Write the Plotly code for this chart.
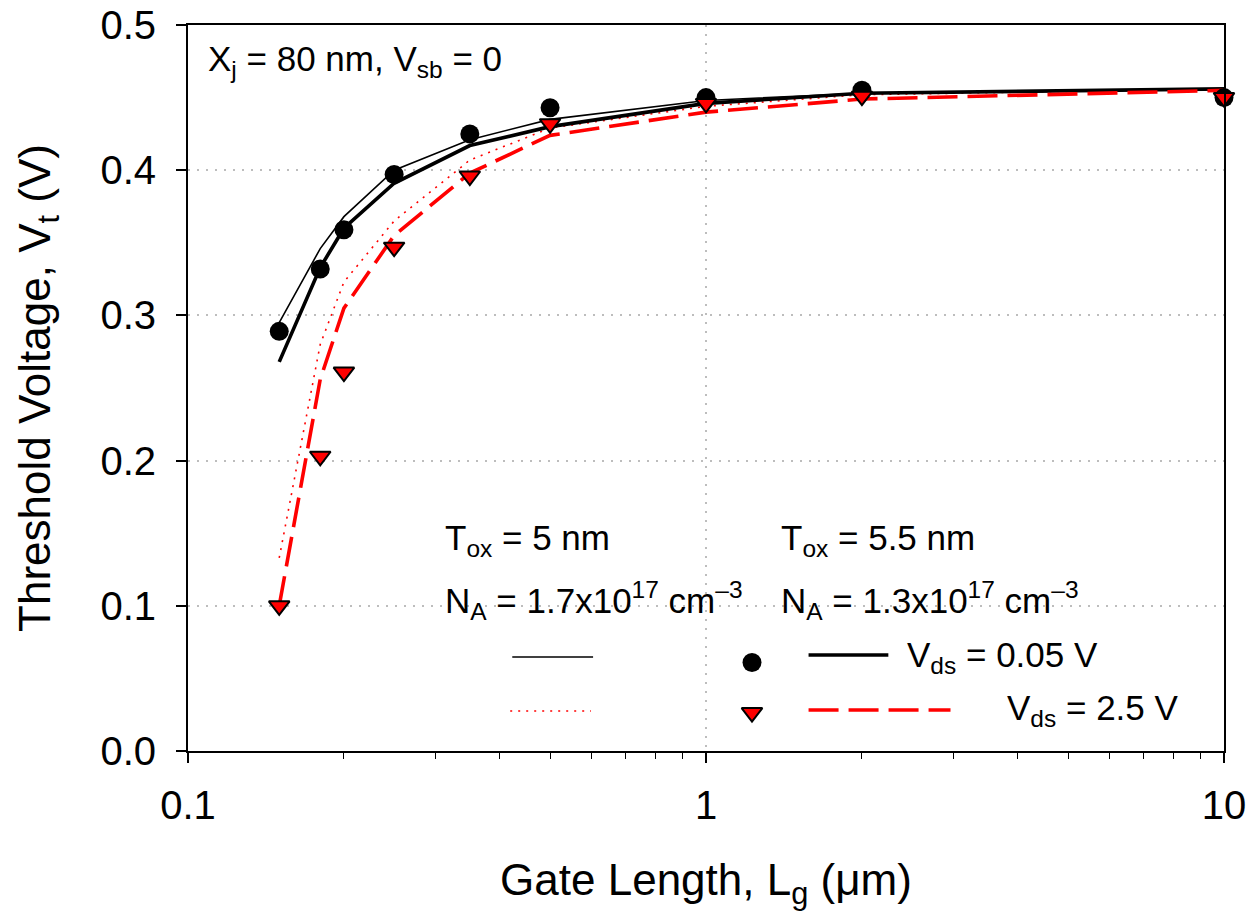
import plotly.graph_objects as go

# Gate lengths (um) where the device was simulated / measured
lg = [0.15, 0.18, 0.2, 0.25, 0.35, 0.5, 1, 2, 10]

# Measured Vt (symbols)
vt_meas_low = [0.289, 0.332, 0.359, 0.397, 0.425, 0.443, 0.450, 0.455, 0.450]
vt_meas_high = [0.100, 0.203, 0.261, 0.347, 0.396, 0.432, 0.446, 0.451, 0.450]

# Model, Tox = 5 nm, NA = 1.7e17
vt_5nm_low = [0.295, 0.346, 0.368, 0.400, 0.421, 0.435, 0.448, 0.453, 0.456]
vt_5nm_high = [0.133, 0.280, 0.323, 0.365, 0.407, 0.429, 0.444, 0.452, 0.456]

# Model, Tox = 5.5 nm, NA = 1.3e17
vt_55nm_low = [0.268, 0.333, 0.360, 0.391, 0.417, 0.430, 0.446, 0.453, 0.456]
vt_55nm_high = [0.100, 0.256, 0.305, 0.355, 0.398, 0.424, 0.440, 0.449, 0.455]

# Axis ticks
x_major = [0.1, 1, 10]
x_major_text = ["0.1", "1", "10"]
x_minor = [0.2, 0.3, 0.4, 0.5, 0.6, 0.7, 0.8, 0.9, 2, 3, 4, 5, 6, 7, 8, 9]
y_ticks = [0, 0.1, 0.2, 0.3, 0.4, 0.5]

FONT = "Liberation Sans, Arial, sans-serif"
RED = "#ff0000"
GRID = "#bdbdbd"
THIN, THICK = 1.6, 3.6
DASH_LONG = "30px,10px"
DOTS = "2px,6px"
CIRCLE = dict(symbol="circle", size=19, color="black", opacity=1)
TRIANGLE = dict(symbol="triangle-down", size=18, color=RED, opacity=1,
                line=dict(color="black", width=2))

fig = go.Figure()

fig.add_trace(go.Scatter(x=lg, y=vt_5nm_low, mode="lines",
                         line=dict(color="black", width=THIN)))
fig.add_trace(go.Scatter(x=lg, y=vt_5nm_high, mode="lines",
                         line=dict(color=RED, width=THIN, dash=DOTS)))
fig.add_trace(go.Scatter(x=lg, y=vt_55nm_low, mode="lines",
                         line=dict(color="black", width=THICK)))
fig.add_trace(go.Scatter(x=lg, y=vt_55nm_high, mode="lines",
                         line=dict(color=RED, width=THICK, dash=DASH_LONG)))
fig.add_trace(go.Scatter(x=lg, y=vt_meas_low, mode="markers", cliponaxis=False,
                         marker=CIRCLE))
fig.add_trace(go.Scatter(x=lg, y=vt_meas_high, mode="markers", cliponaxis=False,
                         marker=TRIANGLE))

# Legend key, drawn on an overlay axis spanning the plot area (0..1)
fig.add_trace(go.Scatter(x=[0.5444], y=[0.1219], mode="markers",
                         xaxis="x2", yaxis="y2", marker=CIRCLE))
fig.add_trace(go.Scatter(x=[0.5444], y=[0.0530], mode="markers",
                         xaxis="x2", yaxis="y2", marker=TRIANGLE))
fig.add_trace(go.Scatter(x=[0.313, 0.391], y=[0.1294, 0.1294], mode="lines",
                         xaxis="x2", yaxis="y2", line=dict(color="black", width=THIN)))
fig.add_trace(go.Scatter(x=[0.311, 0.389], y=[0.0550, 0.0550], mode="lines",
                         xaxis="x2", yaxis="y2",
                         line=dict(color=RED, width=THIN, dash=DOTS)))
fig.add_trace(go.Scatter(x=[0.599, 0.676], y=[0.1322, 0.1322], mode="lines",
                         xaxis="x2", yaxis="y2", line=dict(color="black", width=THICK)))
fig.add_trace(go.Scatter(x=[0.599, 0.736], y=[0.0564, 0.0564], mode="lines",
                         xaxis="x2", yaxis="y2",
                         line=dict(color=RED, width=THICK, dash=DASH_LONG)))

ann_font = dict(family=FONT, size=35, color="black")
texts = [
    (0.0174, 0.951, "X<sub>j</sub> = 80 nm, V<sub>sb</sub> = 0"),
    (0.246, 0.290, "T<sub>ox</sub> = 5 nm"),
    (0.570, 0.290, "T<sub>ox</sub> = 5.5 nm"),
    (0.246, 0.207, "N<sub>A</sub> = 1.7x10<sup>17</sup> cm<sup>\u20133</sup>"),
    (0.570, 0.207, "N<sub>A</sub> = 1.3x10<sup>17</sup> cm<sup>\u20133</sup>"),
    (0.692, 0.130, "V<sub>ds</sub> = 0.05 V"),
    (0.789, 0.056, "V<sub>ds</sub> = 2.5 V"),
]
for x, y, t in texts:
    fig.add_annotation(x=x, y=y, xref="paper", yref="paper", text=t,
                       showarrow=False, xanchor="left", yanchor="middle",
                       font=ann_font)

fig.update_layout(
    width=1251, height=921,
    margin=dict(l=188, r=27, t=25, b=170),
    paper_bgcolor="white", plot_bgcolor="white",
    showlegend=False,
    font=dict(family=FONT, size=40, color="black"),
    xaxis=dict(
        type="log", range=[-1, 1], automargin=False,
        tickvals=x_major, ticktext=x_major_text,
        ticks="outside", ticklen=10, tickwidth=1.6, tickcolor="black",
        ticklabelstandoff=8,
        minor=dict(tickvals=x_minor, ticks="outside", ticklen=6, tickwidth=1.4,
                   tickcolor="black", showgrid=False),
        showline=True, linecolor="black", linewidth=1.8, mirror=True,
        showgrid=True, gridcolor=GRID, griddash="2px,7px", gridwidth=2,
        zeroline=False,
        tickfont=dict(size=40, family=FONT),
        title=dict(text="Gate Length, L<sub>g</sub> (\u03bcm)",
                   font=dict(size=44, family=FONT), standoff=38),
    ),
    yaxis=dict(
        range=[0, 0.5], automargin=False,
        tickvals=y_ticks, tickformat=".1f",
        ticks="outside", ticklen=10, tickwidth=1.6, tickcolor="black",
        ticklabelstandoff=12,
        showline=True, linecolor="black", linewidth=1.8, mirror=True,
        showgrid=True, gridcolor=GRID, griddash="2px,7px", gridwidth=2,
        zeroline=False,
        tickfont=dict(size=40, family=FONT),
        title=dict(text="Threshold Voltage, V<sub>t</sub> (V)",
                   font=dict(size=44, family=FONT), standoff=36),
    ),
    xaxis2=dict(domain=[0, 1], range=[0, 1], overlaying="x", visible=False,
                fixedrange=True),
    yaxis2=dict(domain=[0, 1], range=[0, 1], overlaying="y", visible=False,
                fixedrange=True),
)

fig.write_html("out.html")
